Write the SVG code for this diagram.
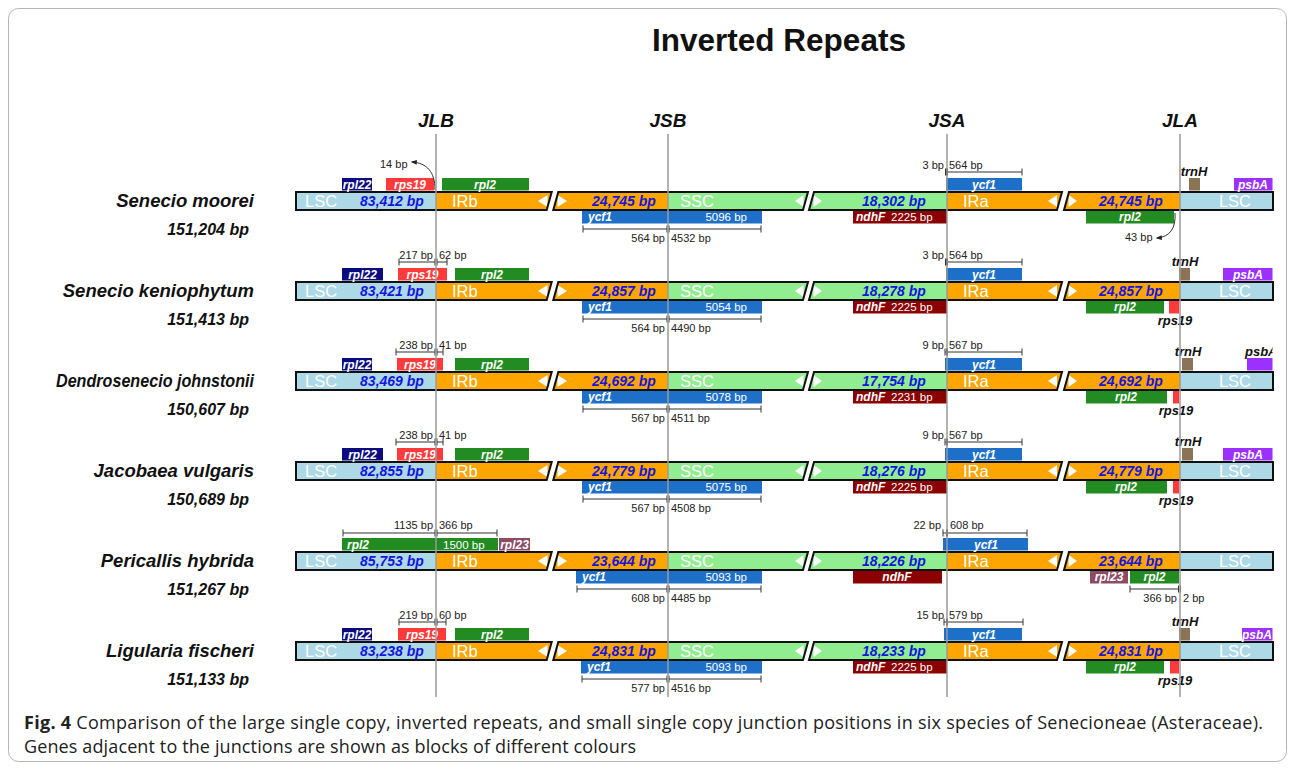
<svg xmlns="http://www.w3.org/2000/svg" xmlns:xlink="http://www.w3.org/1999/xlink" width="1295" height="770" viewBox="0 0 1295 770">
<style>
.lsc{fill:#ADD8E6}.ir{fill:#FFA500}.ssc{fill:#90EE90}
.out{fill:none;stroke:#111;stroke-width:2}
.wt{fill:#fff}
.seg{font-family:"Liberation Sans",Arial,sans-serif;font-size:16.5px;fill:#fff}
.bp{font-family:"Liberation Sans",Arial,sans-serif;font-size:14px;font-weight:bold;font-style:italic;fill:#1515DD;text-anchor:middle}
.gl{font-family:"Liberation Sans",Arial,sans-serif;font-size:12px;font-weight:bold;font-style:italic;fill:#fff}
.gk{font-family:"Liberation Sans",Arial,sans-serif;font-size:13px;font-weight:bold;font-style:italic;fill:#111;text-anchor:middle}
.gn{font-family:"Liberation Sans",Arial,sans-serif;font-size:11.5px;fill:#fff}
.sc{font-family:"Liberation Sans",Arial,sans-serif;font-size:11px;fill:#222}
.sp{font-family:"Liberation Sans",Arial,sans-serif;font-size:18.5px;font-weight:bold;font-style:italic;fill:#111;text-anchor:end}
.sz{font-family:"Liberation Sans",Arial,sans-serif;font-size:16px;font-weight:bold;font-style:italic;fill:#111;text-anchor:end}
.jt{font-family:"Liberation Sans",Arial,sans-serif;font-size:19px;font-weight:bold;font-style:italic;fill:#111;text-anchor:middle}
.jl{stroke:#9a9a9a;stroke-width:1.5}
.sl{stroke:#333;stroke-width:1;fill:none}
.mid{text-anchor:middle}.end{text-anchor:end}
.rpl22{fill:#0B0B80}.rps19{fill:#FF3A3A}.rpl2{fill:#228B22}.ycf1{fill:#1E6FC8}.ndhF{fill:#8B0000}.trnH{fill:#8B7355}.psbA{fill:#9B30FF}.rpl23{fill:#8C4A64}
</style>
<defs>
<marker id="ah" viewBox="0 0 10 10" refX="8" refY="5" markerWidth="6" markerHeight="6" orient="auto"><path d="M0,1 L10,5 L0,9 z" fill="#222"/></marker>
<clipPath id="clipR"><rect x="1100" y="0" width="172.5" height="770"/></clipPath>
<g id="bar">
<rect class="lsc" x="296" y="0" width="140" height="18"/>
<polygon class="ir" points="436,0 551.7,0 546.7,18 436,18"/>
<polygon class="ir" points="558.3,0 668,0 668,18 553.3,18"/>
<polygon class="ssc" points="668,0 808,0 803,18 668,18"/>
<polygon class="ssc" points="814,0 947,0 947,18 809,18"/>
<polygon class="ir" points="947,0 1062,0 1057,18 947,18"/>
<polygon class="ir" points="1069,0 1180,0 1180,18 1064,18"/>
<rect class="lsc" x="1180" y="0" width="93" height="18"/>
<polygon class="wt" points="538,9 547.5,3 547.5,15"/>
<polygon class="wt" points="557.5,3 557.5,15 567,9"/>
<polygon class="wt" points="795,9 803.5,3 803.5,15"/>
<polygon class="wt" points="813.5,3 813.5,15 822,9"/>
<polygon class="wt" points="1048,9 1057,3 1057,15"/>
<polygon class="wt" points="1068.5,3 1068.5,15 1077,9"/>
<polygon class="out" points="296,0 551.7,0 546.7,18 296,18"/>
<polygon class="out" points="558.3,0 808,0 803,18 553.3,18"/>
<polygon class="out" points="814,0 1062,0 1057,18 809,18"/>
<polygon class="out" points="1069,0 1273,0 1273,18 1064,18"/>
</g>
</defs>
<rect x="0" y="0" width="1295" height="770" fill="#fff"/>
<rect x="8.5" y="8.5" width="1278" height="753" rx="10" fill="none" stroke="#b5b5b5" stroke-width="1"/>
<text x="779" y="51" class="mid" font-family="Liberation Sans, Arial, sans-serif" font-size="31.5" font-weight="bold" fill="#111">Inverted Repeats</text>
<g id="junction-labels">
<text class="jt" x="436" y="127">JLB</text>
<text class="jt" x="668" y="127">JSB</text>
<text class="jt" x="947" y="127">JSA</text>
<text class="jt" x="1180" y="127">JLA</text>
</g>

<!-- Row 1 -->
<g id="row1">
<text class="sp" x="254" y="207">Senecio moorei</text>
<text class="sz" x="249" y="235">151,204 bp</text>
<use xlink:href="#bar" href="#bar" y="192"/>
<text class="seg" x="305" y="206.5">LSC</text><text class="bp" x="392" y="206">83,412 bp</text>
<text class="seg" x="452" y="206.5">IRb</text><text class="bp" x="624" y="206">24,745 bp</text>
<text class="seg" x="680" y="206.5">SSC</text><text class="bp" x="894" y="206">18,302 bp</text>
<text class="seg" x="963" y="206.5">IRa</text><text class="bp" x="1131" y="206">24,745 bp</text>
<text class="seg mid" x="1235" y="206.5">LSC</text>
<g id="r1-rpl22"><rect class="rpl22" x="342" y="178" width="30" height="12.5"/><text class="gl mid" x="357" y="188.5">rpl22</text></g>
<g id="r1-rps19"><rect class="rps19" x="386" y="178" width="48" height="12.5"/><text class="gl mid" x="410" y="188.5">rps19</text></g>
<g id="r1-rpl2a"><rect class="rpl2" x="442" y="178" width="87" height="12.5"/><text class="gl mid" x="485" y="188.5">rpl2</text></g>
<g id="r1-ycf1a"><rect class="ycf1" x="582" y="211" width="180" height="12.5"/><text class="gl" x="588" y="221">ycf1</text><text class="gn end" x="747" y="221">5096 bp</text></g>
<g id="r1-ndhF"><rect class="ndhF" x="853" y="211" width="94" height="12.5"/><text class="gl" x="856" y="221">ndhF</text><text class="gn" x="891" y="221">2225 bp</text></g>
<g id="r1-ycf1b"><rect class="ycf1" x="946" y="178" width="76" height="12.5"/><text class="gl mid" x="984" y="188.5">ycf1</text></g>
<g id="r1-rpl2b"><rect class="rpl2" x="1086" y="211" width="88" height="12.5"/><text class="gl mid" x="1130" y="221">rpl2</text></g>
<g id="r1-trnH"><rect class="trnH" x="1189" y="178" width="11" height="12.5"/><text class="gk" x="1194" y="175.5">trnH</text></g>
<g id="r1-psbA"><rect class="psbA" x="1234" y="178" width="38.5" height="12.5"/><text class="gl mid" x="1253" y="188.5">psbA</text></g>
<text class="sc" x="380" y="168">14 bp</text>
<text class="sc end" x="665" y="242">564 bp</text><text class="sc" x="671" y="242">4532 bp</text>
<text class="sc end" x="944" y="169">3 bp</text><text class="sc" x="949" y="169">564 bp</text>
<text class="sc" x="1125" y="241">43 bp</text>
</g>

<!-- Row 2 -->
<g id="row2">
<text class="sp" x="254" y="297">Senecio keniophytum</text>
<text class="sz" x="249" y="325">151,413 bp</text>
<use xlink:href="#bar" href="#bar" y="282"/>
<text class="seg" x="305" y="296.5">LSC</text><text class="bp" x="392" y="296">83,421 bp</text>
<text class="seg" x="452" y="296.5">IRb</text><text class="bp" x="624" y="296">24,857 bp</text>
<text class="seg" x="680" y="296.5">SSC</text><text class="bp" x="894" y="296">18,278 bp</text>
<text class="seg" x="963" y="296.5">IRa</text><text class="bp" x="1131" y="296">24,857 bp</text>
<text class="seg mid" x="1235" y="296.5">LSC</text>
<g id="r2-rpl22"><rect class="rpl22" x="342" y="268" width="41" height="12.5"/><text class="gl mid" x="362.5" y="278.5">rpl22</text></g>
<g id="r2-rps19"><rect class="rps19" x="398" y="268" width="49" height="12.5"/><text class="gl mid" x="422.5" y="278.5">rps19</text></g>
<g id="r2-rpl2a"><rect class="rpl2" x="455" y="268" width="74" height="12.5"/><text class="gl mid" x="492" y="278.5">rpl2</text></g>
<g id="r2-ycf1a"><rect class="ycf1" x="582" y="301" width="180" height="12.5"/><text class="gl" x="588" y="311">ycf1</text><text class="gn end" x="747" y="311">5054 bp</text></g>
<g id="r2-ndhF"><rect class="ndhF" x="853" y="301" width="94" height="12.5"/><text class="gl" x="856" y="311">ndhF</text><text class="gn" x="891" y="311">2225 bp</text></g>
<g id="r2-ycf1b"><rect class="ycf1" x="946" y="268" width="76" height="12.5"/><text class="gl mid" x="984" y="278.5">ycf1</text></g>
<g id="r2-rpl2b"><rect class="rpl2" x="1086" y="301" width="78" height="12.5"/><text class="gl mid" x="1125" y="311">rpl2</text></g>
<g id="r2-rps19b"><rect class="rps19" x="1169" y="301" width="10" height="12.5"/><text class="gk" x="1175" y="324.5">rps19</text></g>
<g id="r2-trnH"><rect class="trnH" x="1179" y="268" width="11" height="12.5"/><text class="gk" x="1185" y="265.5">trnH</text></g>
<g id="r2-psbA"><rect class="psbA" x="1223" y="268" width="49.5" height="12.5"/><text class="gl mid" x="1248" y="278.5">psbA</text></g>
<text class="sc end" x="433" y="259">217 bp</text><text class="sc" x="439" y="259">62 bp</text>
<text class="sc end" x="665" y="332">564 bp</text><text class="sc" x="671" y="332">4490 bp</text>
<text class="sc end" x="944" y="259">3 bp</text><text class="sc" x="949" y="259">564 bp</text>
</g>

<!-- Row 3 -->
<g id="row3">
<text class="sp" x="254" y="387" textLength="198" lengthAdjust="spacingAndGlyphs">Dendrosenecio johnstonii</text>
<text class="sz" x="249" y="415">150,607 bp</text>
<use xlink:href="#bar" href="#bar" y="372"/>
<text class="seg" x="305" y="386.5">LSC</text><text class="bp" x="392" y="386">83,469 bp</text>
<text class="seg" x="452" y="386.5">IRb</text><text class="bp" x="624" y="386">24,692 bp</text>
<text class="seg" x="680" y="386.5">SSC</text><text class="bp" x="894" y="386">17,754 bp</text>
<text class="seg" x="963" y="386.5">IRa</text><text class="bp" x="1131" y="386">24,692 bp</text>
<text class="seg mid" x="1235" y="386.5">LSC</text>
<g id="r3-rpl22"><rect class="rpl22" x="342" y="358" width="30" height="12.5"/><text class="gl mid" x="357" y="368.5">rpl22</text></g>
<g id="r3-rps19"><rect class="rps19" x="397" y="358" width="46" height="12.5"/><text class="gl mid" x="420" y="368.5">rps19</text></g>
<g id="r3-rpl2a"><rect class="rpl2" x="455" y="358" width="74" height="12.5"/><text class="gl mid" x="492" y="368.5">rpl2</text></g>
<g id="r3-ycf1a"><rect class="ycf1" x="582" y="391" width="180" height="12.5"/><text class="gl" x="588" y="401">ycf1</text><text class="gn end" x="747" y="401">5078 bp</text></g>
<g id="r3-ndhF"><rect class="ndhF" x="853" y="391" width="94" height="12.5"/><text class="gl" x="856" y="401">ndhF</text><text class="gn" x="891" y="401">2231 bp</text></g>
<g id="r3-ycf1b"><rect class="ycf1" x="945" y="358" width="77" height="12.5"/><text class="gl mid" x="984" y="368.5">ycf1</text></g>
<g id="r3-rpl2b"><rect class="rpl2" x="1086" y="391" width="81" height="12.5"/><text class="gl mid" x="1126" y="401">rpl2</text></g>
<g id="r3-rps19b"><rect class="rps19" x="1173" y="391" width="6" height="12.5"/><text class="gk" x="1176" y="414.5">rps19</text></g>
<g id="r3-trnH"><rect class="trnH" x="1182" y="358" width="11" height="12.5"/><text class="gk" x="1188" y="355.5">trnH</text></g>
<g id="r3-psbA"><rect class="psbA" x="1247" y="358" width="25.5" height="12.5"/><text class="gk" x="1245" y="355.5" style="text-anchor:start" clip-path="url(#clipR)">psbA</text></g>
<text class="sc end" x="433" y="349">238 bp</text><text class="sc" x="439" y="349">41 bp</text>
<text class="sc end" x="665" y="422">567 bp</text><text class="sc" x="671" y="422">4511 bp</text>
<text class="sc end" x="944" y="349">9 bp</text><text class="sc" x="949" y="349">567 bp</text>
</g>

<!-- Row 4 -->
<g id="row4">
<text class="sp" x="254" y="477">Jacobaea vulgaris</text>
<text class="sz" x="249" y="505">150,689 bp</text>
<use xlink:href="#bar" href="#bar" y="462"/>
<text class="seg" x="305" y="476.5">LSC</text><text class="bp" x="392" y="476">82,855 bp</text>
<text class="seg" x="452" y="476.5">IRb</text><text class="bp" x="624" y="476">24,779 bp</text>
<text class="seg" x="680" y="476.5">SSC</text><text class="bp" x="894" y="476">18,276 bp</text>
<text class="seg" x="963" y="476.5">IRa</text><text class="bp" x="1131" y="476">24,779 bp</text>
<text class="seg mid" x="1235" y="476.5">LSC</text>
<g id="r4-rpl22"><rect class="rpl22" x="342" y="448" width="41" height="12.5"/><text class="gl mid" x="362.5" y="458.5">rpl22</text></g>
<g id="r4-rps19"><rect class="rps19" x="397" y="448" width="46" height="12.5"/><text class="gl mid" x="420" y="458.5">rps19</text></g>
<g id="r4-rpl2a"><rect class="rpl2" x="455" y="448" width="74" height="12.5"/><text class="gl mid" x="492" y="458.5">rpl2</text></g>
<g id="r4-ycf1a"><rect class="ycf1" x="582" y="481" width="180" height="12.5"/><text class="gl" x="588" y="491">ycf1</text><text class="gn end" x="747" y="491">5075 bp</text></g>
<g id="r4-ndhF"><rect class="ndhF" x="853" y="481" width="94" height="12.5"/><text class="gl" x="856" y="491">ndhF</text><text class="gn" x="891" y="491">2225 bp</text></g>
<g id="r4-ycf1b"><rect class="ycf1" x="945" y="448" width="77" height="12.5"/><text class="gl mid" x="984" y="458.5">ycf1</text></g>
<g id="r4-rpl2b"><rect class="rpl2" x="1086" y="481" width="81" height="12.5"/><text class="gl mid" x="1126" y="491">rpl2</text></g>
<g id="r4-rps19b"><rect class="rps19" x="1173" y="481" width="6" height="12.5"/><text class="gk" x="1176" y="504.5">rps19</text></g>
<g id="r4-trnH"><rect class="trnH" x="1182" y="448" width="11" height="12.5"/><text class="gk" x="1188" y="445.5">trnH</text></g>
<g id="r4-psbA"><rect class="psbA" x="1223" y="448" width="49.5" height="12.5"/><text class="gl mid" x="1248" y="458.5">psbA</text></g>
<text class="sc end" x="433" y="439">238 bp</text><text class="sc" x="439" y="439">41 bp</text>
<text class="sc end" x="665" y="512">567 bp</text><text class="sc" x="671" y="512">4508 bp</text>
<text class="sc end" x="944" y="439">9 bp</text><text class="sc" x="949" y="439">567 bp</text>
</g>

<!-- Row 5 -->
<g id="row5">
<text class="sp" x="254" y="567">Pericallis hybrida</text>
<text class="sz" x="249" y="595">151,267 bp</text>
<use xlink:href="#bar" href="#bar" y="552"/>
<text class="seg" x="305" y="566.5">LSC</text><text class="bp" x="392" y="566">85,753 bp</text>
<text class="seg" x="452" y="566.5">IRb</text><text class="bp" x="624" y="566">23,644 bp</text>
<text class="seg" x="680" y="566.5">SSC</text><text class="bp" x="894" y="566">18,226 bp</text>
<text class="seg" x="963" y="566.5">IRa</text><text class="bp" x="1131" y="566">23,644 bp</text>
<text class="seg mid" x="1235" y="566.5">LSC</text>
<g id="r5-rpl2a"><rect class="rpl2" x="342" y="538" width="156" height="12.5"/><text class="gl" x="347" y="548.5">rpl2</text><text class="gn" x="443" y="548.5">1500 bp</text></g>
<g id="r5-rpl23a"><rect class="rpl23" x="499" y="538" width="31" height="12.5"/><text class="gl mid" x="514.5" y="548.5">rpl23</text></g>
<g id="r5-ycf1a"><rect class="ycf1" x="576" y="571" width="186" height="12.5"/><text class="gl" x="582" y="581">ycf1</text><text class="gn end" x="747" y="581">5093 bp</text></g>
<g id="r5-ndhF"><rect class="ndhF" x="853" y="571" width="89" height="12.5"/><text class="gl mid" x="897" y="581">ndhF</text></g>
<g id="r5-ycf1b"><rect class="ycf1" x="943" y="538" width="85" height="12.5"/><text class="gl mid" x="986" y="548.5">ycf1</text></g>
<g id="r5-rpl23b"><rect class="rpl23" x="1090" y="571" width="38" height="12.5"/><text class="gl mid" x="1109" y="581">rpl23</text></g>
<g id="r5-rpl2b"><rect class="rpl2" x="1130" y="571" width="49" height="12.5"/><text class="gl mid" x="1154.5" y="581">rpl2</text></g>
<text class="sc end" x="433" y="529">1135 bp</text><text class="sc" x="439" y="529">366 bp</text>
<text class="sc end" x="665" y="602">608 bp</text><text class="sc" x="671" y="602">4485 bp</text>
<text class="sc end" x="941" y="529">22 bp</text><text class="sc" x="950" y="529">608 bp</text>
<text class="sc end" x="1177" y="602">366 bp</text><text class="sc" x="1183" y="602">2 bp</text>
</g>

<!-- Row 6 -->
<g id="row6">
<text class="sp" x="254" y="657">Ligularia fischeri</text>
<text class="sz" x="249" y="685">151,133 bp</text>
<use xlink:href="#bar" href="#bar" y="642"/>
<text class="seg" x="305" y="656.5">LSC</text><text class="bp" x="392" y="656">83,238 bp</text>
<text class="seg" x="452" y="656.5">IRb</text><text class="bp" x="624" y="656">24,831 bp</text>
<text class="seg" x="680" y="656.5">SSC</text><text class="bp" x="894" y="656">18,233 bp</text>
<text class="seg" x="963" y="656.5">IRa</text><text class="bp" x="1131" y="656">24,831 bp</text>
<text class="seg mid" x="1235" y="656.5">LSC</text>
<g id="r6-rpl22"><rect class="rpl22" x="342" y="628" width="30" height="12.5"/><text class="gl mid" x="357" y="638.5">rpl22</text></g>
<g id="r6-rps19"><rect class="rps19" x="398" y="628" width="48" height="12.5"/><text class="gl mid" x="422" y="638.5">rps19</text></g>
<g id="r6-rpl2a"><rect class="rpl2" x="455" y="628" width="74" height="12.5"/><text class="gl mid" x="492" y="638.5">rpl2</text></g>
<g id="r6-ycf1a"><rect class="ycf1" x="581" y="661" width="181" height="12.5"/><text class="gl" x="587" y="671">ycf1</text><text class="gn end" x="747" y="671">5093 bp</text></g>
<g id="r6-ndhF"><rect class="ndhF" x="853" y="661" width="94" height="12.5"/><text class="gl" x="856" y="671">ndhF</text><text class="gn" x="891" y="671">2225 bp</text></g>
<g id="r6-ycf1b"><rect class="ycf1" x="944" y="628" width="78" height="12.5"/><text class="gl mid" x="984" y="638.5">ycf1</text></g>
<g id="r6-rpl2b"><rect class="rpl2" x="1086" y="661" width="78" height="12.5"/><text class="gl mid" x="1125" y="671">rpl2</text></g>
<g id="r6-rps19b"><rect class="rps19" x="1170" y="661" width="9" height="12.5"/><text class="gk" x="1175" y="684.5">rps19</text></g>
<g id="r6-trnH"><rect class="trnH" x="1179" y="628" width="11" height="12.5"/><text class="gk" x="1185" y="625.5">trnH</text></g>
<g id="r6-psbA"><rect class="psbA" x="1242" y="628" width="30.5" height="12.5"/><text class="gl mid" x="1257" y="638.5" clip-path="url(#clipR)">psbA</text></g>
<text class="sc end" x="433" y="619">219 bp</text><text class="sc" x="439" y="619">60 bp</text>
<text class="sc end" x="665" y="692">577 bp</text><text class="sc" x="671" y="692">4516 bp</text>
<text class="sc end" x="944" y="619">15 bp</text><text class="sc" x="949" y="619">579 bp</text>
</g>

<g id="connectors" class="sl">
<path d="M435,190 C435,172 427,163 412,162" marker-end="url(#ah)"/>
<path d="M1175,213 C1176,228 1170,237 1157,238" marker-end="url(#ah)"/>
<path d="M583,229H667M669,229H761M583,225.5v7M667,225.5v7M669,225.5v7M761,225.5v7"/>
<path d="M945.5,172H946.5M947.5,172H1022M945.5,168.5v7M946.5,168.5v7M947.5,168.5v7M1022,168.5v7"/>
<path d="M399,262H435M437,262H447M399,258.5v7M435,258.5v7M437,258.5v7M447,258.5v7"/>
<path d="M583,319H667M669,319H761M583,315.5v7M667,315.5v7M669,315.5v7M761,315.5v7"/>
<path d="M945.5,262H946.5M947.5,262H1022M945.5,258.5v7M946.5,258.5v7M947.5,258.5v7M1022,258.5v7"/>
<path d="M396,352H435M437,352H443M396,348.5v7M435,348.5v7M437,348.5v7M443,348.5v7"/>
<path d="M583,409H667M669,409H761M583,405.5v7M667,405.5v7M669,405.5v7M761,405.5v7"/>
<path d="M945,352H946.5M947.5,352H1022M945,348.5v7M946.5,348.5v7M947.5,348.5v7M1022,348.5v7"/>
<path d="M396,442H435M437,442H443M396,438.5v7M435,438.5v7M437,438.5v7M443,438.5v7"/>
<path d="M583,499H667M669,499H761M583,495.5v7M667,495.5v7M669,495.5v7M761,495.5v7"/>
<path d="M945,442H946.5M947.5,442H1022M945,438.5v7M946.5,438.5v7M947.5,438.5v7M1022,438.5v7"/>
<path d="M343,533H435M437,533H497M343,529.5v7M435,529.5v7M437,529.5v7M497,529.5v7"/>
<path d="M577,589H667M669,589H761M577,585.5v7M667,585.5v7M669,585.5v7M761,585.5v7"/>
<path d="M943,533H946.5M947.5,533H1027M943,529.5v7M946.5,529.5v7M947.5,529.5v7M1027,529.5v7"/>
<path d="M1130,589H1178.5M1130,585.5v7M1178.5,585.5v7M1180.5,585.5v7"/>
<path d="M399,622H435M437,622H446M399,618.5v7M435,618.5v7M437,618.5v7M446,618.5v7"/>
<path d="M582,679H667M669,679H761M582,675.5v7M667,675.5v7M669,675.5v7M761,675.5v7"/>
<path d="M944,622H946.5M947.5,622H1023M944,618.5v7M946.5,618.5v7M947.5,618.5v7M1023,618.5v7"/>
</g>

<g id="junction-lines">
<line class="jl" x1="436" y1="134" x2="436" y2="697"/>
<line class="jl" x1="668" y1="134" x2="668" y2="697"/>
<line class="jl" x1="947" y1="134" x2="947" y2="697"/>
<line class="jl" x1="1180" y1="134" x2="1180" y2="697"/>
</g>

<g id="caption" font-family="Open Sans, Liberation Sans, Arial, sans-serif" font-size="18" fill="#222">
<text x="24" y="729" textLength="1239"><tspan font-weight="bold">Fig. 4</tspan>  Comparison of the large single copy, inverted repeats, and small single copy junction positions in six species of Senecioneae (Asteraceae).</text>
<text x="24" y="753" textLength="612">Genes adjacent to the junctions are shown as blocks of different colours</text>
</g>
</svg>
